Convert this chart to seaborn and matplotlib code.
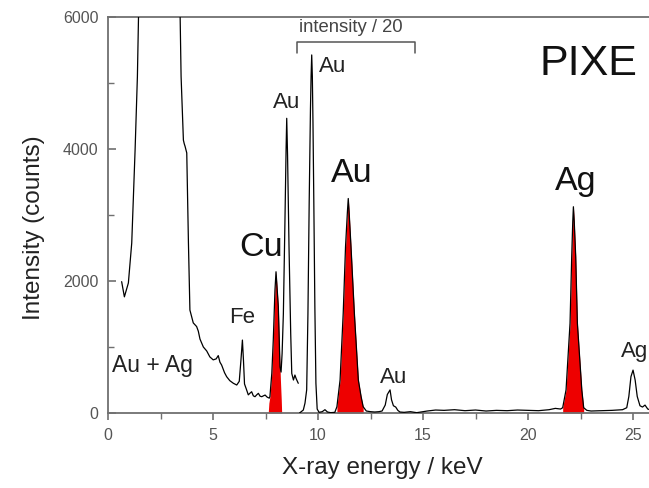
import numpy as np
import pandas as pd
import matplotlib
matplotlib.use("Agg")
import matplotlib.pyplot as plt
import seaborn as sns

# ---- spectrum (energy keV, counts) ----
# segment 0: full-scale part (0.6 - 9.06 keV)
energy_a = [0.65, 0.78, 0.97, 1.13, 1.29, 1.40, 1.47, 1.50, 2.30, 3.38, 3.42, 3.48,
            3.59, 3.63, 3.67, 3.75, 3.83, 3.90, 4.06, 4.22, 4.30, 4.38, 4.54, 4.70,
            4.85, 5.01, 5.15, 5.25, 5.33, 5.41, 5.55, 5.65, 5.80, 5.97, 6.13, 6.25,
            6.33, 6.40, 6.45, 6.50, 6.60, 6.68, 6.76, 6.84, 6.92, 7.00, 7.08, 7.16,
            7.24, 7.32, 7.40, 7.48, 7.58, 7.68, 7.71, 7.80, 7.87, 7.95, 8.00, 8.05,
            8.11, 8.19, 8.24, 8.29, 8.35, 8.42, 8.48, 8.51, 8.55, 8.62, 8.70, 8.75,
            8.83, 8.90, 8.96, 9.06]
counts_a = [1990, 1760, 1970, 2575, 3985, 5100, 6300, 7000, 40000, 7000, 6300, 5100,
            4135, 4080, 4040, 3940, 2575, 1560, 1365, 1310, 1240, 1120, 1000, 940,
            850, 805, 820, 870, 770, 727, 610, 550, 490, 450, 424, 480,
            800, 1105, 800, 440, 350, 275, 300, 322, 260, 247, 275, 298,
            255, 247, 260, 272, 240, 225, 250, 600, 1105, 1860, 2140, 1900,
            1610, 700, 620, 900, 1500, 2800, 4000, 4465, 3900, 2500, 1200, 600,
            500, 575, 520, 450]
# segment 1: from 9.1 keV on (9 - 14.6 keV shown at intensity / 20)
energy_b = [9.12, 9.20, 9.30, 9.38, 9.46, 9.52, 9.58, 9.64, 9.67, 9.70, 9.73, 9.76,
            9.80, 9.85, 9.90, 9.96, 10.05, 10.20, 10.33, 10.45, 10.60, 10.80, 10.90,
            11.05, 11.20, 11.31, 11.40, 11.44, 11.48, 11.57, 11.73, 11.92, 12.05,
            12.15, 12.30, 12.50, 12.70, 12.90, 13.05, 13.20, 13.30, 13.43, 13.50,
            13.59, 13.70, 13.80, 13.90, 14.10, 14.40, 14.70, 14.80, 15.20, 15.60,
            16.00, 16.50, 17.00, 17.50, 18.00, 18.50, 19.00, 19.50, 20.00, 20.50,
            21.00, 21.30, 21.55, 21.65, 21.81, 22.00, 22.08, 22.13, 22.16, 22.20,
            22.27, 22.35, 22.56, 22.65, 22.80, 23.00, 23.50, 24.00, 24.50, 24.70,
            24.80, 24.90, 25.00, 25.10, 25.20, 25.33, 25.45, 25.57, 25.70, 25.80]
counts_b = [0, 20, 45, 150, 350, 1500, 3200, 4600, 5100, 5425, 5100, 4400,
            3200, 1600, 450, 60, 10, 20, 50, 15, 5, 10, 95,
            500, 1515, 2520, 3050, 3250, 3050, 2520, 1515, 500, 250,
            95, 30, 20, 15, 20, 30, 120, 280, 350, 200,
            110, 90, 40, 15, 10, 20, 5, 10, 30, 45,
            40, 50, 35, 45, 30, 40, 35, 45, 40, 35,
            50, 70, 60, 80, 350, 1360, 2370, 2900, 3125, 2900,
            2370, 1360, 350, 80, 40, 30, 35, 40, 50, 80,
            250, 550, 650, 500, 250, 110, 90, 120, 60, 50]

# Cu K-alpha peak (deconvolved, red)
cu_energy = [7.63, 7.66, 7.71, 7.80, 7.87, 7.95, 8.00, 8.05, 8.11, 8.17, 8.21, 8.25, 8.27]
cu_counts = [0, 150, 250, 600, 1105, 1860, 2140, 1900, 1610, 900, 500, 200, 0]
# other red peaks: energy ranges of the spectrum that are filled
red_ranges = [(10.90, 12.15), (21.65, 22.65)]

# labels: (text, x, y, fontsize, ha)
small_labels = [("Au + Ag", 0.19, 626, 16.5, "left"), ("Fe", 6.38, 1363, 16, "center"),
                ("Au", 8.48, 4620, 16, "center"), ("Au", 10.71, 5166, 16, "center"),
                ("Au", 13.62, 455, 16, "center"), ("Ag", 25.05, 848, 16, "center")]
big_labels = [("Cu", 7.29, 2379), ("Au", 11.62, 3500), ("Ag", 22.29, 3378)]

# ---- plotting ----
sns.set_style("ticks")
plt.rcParams["font.family"] = ["Liberation Sans", "DejaVu Sans"]

fig = plt.figure(figsize=(6.49, 4.88), dpi=100)
ax = fig.add_axes([108 / 649, 1 - 413 / 488, 1 - 108 / 649, (413 - 17) / 488])

df = pd.concat([
    pd.DataFrame({"energy": energy_a, "counts": counts_a, "segment": 0}),
    pd.DataFrame({"energy": energy_b, "counts": counts_b, "segment": 1}),
])

red = "#ee0000"
ax.fill_between(cu_energy, cu_counts, 0, color=red, lw=0, zorder=2)
eb = np.array(energy_b)
cb = np.array(counts_b)
for lo, hi in red_ranges:
    m = (eb >= lo) & (eb <= hi)
    ax.fill_between(eb[m], cb[m], 0, color=red, lw=0, zorder=2)

sns.lineplot(data=df, x="energy", y="counts", units="segment", estimator=None,
             sort=False, color="black", lw=0.9, ax=ax, zorder=3)

ax.set_xlim(0, 25.76)
ax.set_ylim(0, 6000)
ax.set_xticks([0, 5, 10, 15, 20, 25])
ax.set_xticks([2.5, 7.5, 12.5, 17.5, 22.5], minor=True)
ax.set_yticks([0, 2000, 4000, 6000])
ax.set_yticks([1000, 3000, 5000], minor=True)

spine_col = "#707070"
for s in ["left", "bottom", "top"]:
    ax.spines[s].set_color(spine_col)
    ax.spines[s].set_linewidth(1.3)
ax.spines["right"].set_visible(False)
ax.tick_params(axis="y", which="both", direction="in", color=spine_col, labelsize=11.5,
               labelcolor="#555555", pad=7)
ax.tick_params(axis="y", which="major", length=6, width=1.2)
ax.tick_params(axis="y", which="minor", length=4, width=1.0)
ax.tick_params(axis="x", which="both", direction="out", color=spine_col, labelsize=11.5,
               labelcolor="#555555", pad=6)
ax.tick_params(axis="x", which="major", length=5, width=1.2)
ax.tick_params(axis="x", which="minor", length=4, width=1.0)

ax.set_xlabel("X-ray energy / keV", fontsize=17.5, color="#222222")
ax.set_ylabel("Intensity (counts)", fontsize=17.5, color="#222222")
ax.xaxis.set_label_coords((382 - 108) / 541, (413 - 457) / 396)
ax.yaxis.set_label_coords((45 - 108) / 541, (413 - 228) / 396)

for t, x, y, fs, ha in small_labels:
    ax.text(x, y, t, fontsize=fs, ha=ha, va="baseline", color="#222222", clip_on=False)
for t, x, y in big_labels:
    ax.text(x, y, t, fontsize=24.5, ha="center", va="baseline", color="#111111")
ax.text(22.86, 5120, "PIXE", fontsize=31, ha="center", va="baseline", color="#111111")

# intensity / 20 bracket
ax.plot([9.0, 9.0, 14.62, 14.62], [5454, 5625, 5625, 5454], color="#555555", lw=1.1)
ax.text(11.57, 5772, "intensity / 20", fontsize=13.3, ha="center", va="baseline",
        color="#444444")

fig.savefig("out.png", dpi=100)
